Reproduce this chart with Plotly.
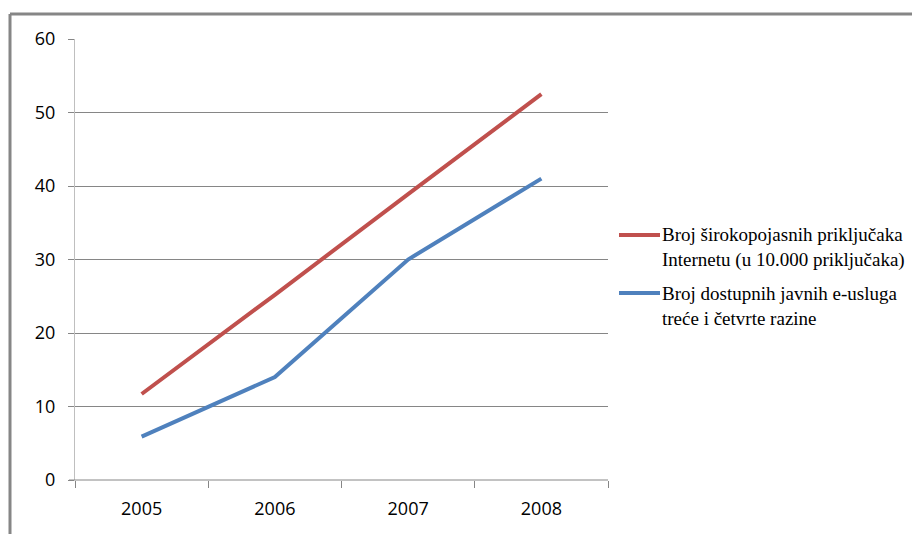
import plotly.graph_objects as go

years = ["2005", "2006", "2007", "2008"]
broadband = [11.7, 25.2, 38.9, 52.5]
eservices = [5.9, 14.0, 30.0, 41.0]
name_red = "Broj širokopojasnih priključaka<br>Internetu (u 10.000 priključaka)"
name_blue = "Broj dostupnih javnih e-usluga<br>treće i četvrte razine"
color_red = "#C0504D"
color_blue = "#4F81BD"

OFF = 8  # page body margin
W, H = 920 - OFF, 534 - OFF
L, R, T, B = 75 - OFF, 608 - OFF, 39 - OFF, 480 - OFF
pw, ph = R - L, B - T

def px(x):
    return (x - OFF - L) / pw

def py(y):
    return (B - (y - OFF)) / ph

fig = go.Figure()
fig.add_trace(go.Scatter(x=years, y=broadband, mode="lines", name=name_red,
                         line=dict(color=color_red, width=4), showlegend=False))
fig.add_trace(go.Scatter(x=years, y=eservices, mode="lines", name=name_blue,
                         line=dict(color=color_blue, width=4), showlegend=False))

legend_font = dict(family="Liberation Serif, Times New Roman, serif", size=19, color="#000000")
annotations = []
shapes = [
    dict(type="line", xref="paper", yref="paper", x0=px(10), x1=px(930),
         y0=py(14), y1=py(14), line=dict(color="#868686", width=3)),
    dict(type="line", xref="paper", yref="paper", x0=px(10), x1=px(10),
         y0=py(14), y1=py(540), line=dict(color="#868686", width=3)),
    dict(type="line", xref="paper", yref="paper", x0=px(69), x1=1,
         y0=0, y1=0, line=dict(color="#868686", width=1)),
]
for name, col, ly in [(name_red, color_red, 235), (name_blue, color_blue, 293)]:
    shapes.append(dict(type="line", xref="paper", yref="paper", x0=px(619), x1=px(660),
                       y0=py(ly), y1=py(ly), line=dict(color=col, width=4)))
    annotations.append(dict(xref="paper", yref="paper", x=px(660), y=py(ly + 12.5),
                            xanchor="left", yanchor="middle", align="left",
                            text=name, showarrow=False, font=legend_font))

fig.update_layout(
    width=W, height=H,
    margin=dict(l=L, r=W - R, t=T, b=H - B, pad=0),
    paper_bgcolor="white", plot_bgcolor="white",
    font=dict(family="Open Sans, Liberation Sans, sans-serif", size=18, color="#000000"),
    xaxis=dict(type="category", range=[-0.5, 3.5], tickson="boundaries",
               ticks="outside", ticklen=7, tickcolor="#868686", tickwidth=1,
               showgrid=False, showline=False, zeroline=False,
               tickfont=dict(size=18), ticklabelstandoff=16),
    yaxis=dict(range=[0, 60], dtick=10, ticks="outside", ticklen=6,
               tickcolor="#868686", tickwidth=1,
               showgrid=True, gridcolor="#868686", gridwidth=1,
               showline=True, linecolor="#BFBFBF", linewidth=1,
               zeroline=False, tickfont=dict(size=18), ticklabelstandoff=9),
    showlegend=False,
    shapes=shapes,
    annotations=annotations,
)

fig.write_html("out.html")
